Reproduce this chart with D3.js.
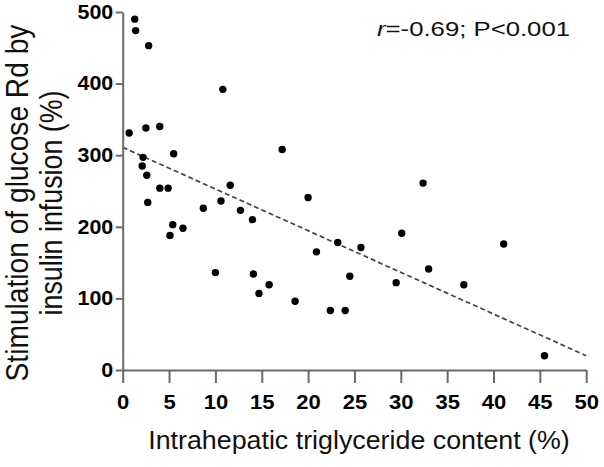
<!DOCTYPE html>
<html>
<head>
<meta charset="utf-8">
<script src="https://cdn.jsdelivr.net/npm/d3@7"></script>
<style>
  html, body { margin: 0; padding: 0; background: #fff; }
  svg { display: block; font-family: "Liberation Sans", Arial, sans-serif; }
</style>
</head>
<body>
<svg id="chart" width="604" height="467"></svg>
<script>
// ---- data ----
const ihtg = [1.3, 1.4, 2.8, 10.8, 0.7, 2.5, 4.0, 17.2, 2.2, 5.5, 2.1, 2.6, 4.0, 4.9, 11.6, 2.7, 8.7, 10.6, 12.7, 14.0, 5.4, 5.1, 6.5, 10.0, 14.1, 14.7, 15.8, 18.6, 20.0, 32.4, 30.1, 23.2, 25.7, 20.9, 24.5, 33.0, 29.5, 36.8, 22.4, 24.0, 41.1, 45.5];
const rdStim = [490, 474, 453, 392, 331, 338, 340, 308, 297, 302, 285, 272, 254, 254, 258, 234, 226, 236, 223, 210, 203, 188, 198, 136, 134, 107, 119, 96, 241, 261, 191, 178, 171, 165, 131, 141, 122, 119, 83, 83, 176, 20];
const fitX = [0, 50];
const fitY = [311, 20];
const xTicks = [0, 5, 10, 15, 20, 25, 30, 35, 40, 45, 50];
const yTicks = [0, 100, 200, 300, 400, 500];
const xTitle = "Intrahepatic triglyceride content (%)";
const yTitleLines = ["Stimulation of glucose Rd by", "insulin infusion (%)"];

// ---- layout ----
const svg = d3.select("#chart");
const x = d3.scaleLinear().domain([0, 50]).range([122.7, 586.2]);
const y = d3.scaleLinear().domain([0, 500]).range([370, 12]);
const axisColor = "#6a6a6a";
const SX = 1.1; // horizontal stretch of the reference text

// fit line
svg.append("path")
  .datum(fitX.map((d, i) => [d, fitY[i]]))
  .attr("d", d3.line().x(d => x(d[0])).y(d => y(d[1])))
  .attr("fill", "none")
  .attr("stroke", "#444")
  .attr("stroke-width", 1.7)
  .attr("stroke-dasharray", "5,3");

// x axis
const gx = svg.append("g")
  .attr("transform", `translate(0,${y(0)})`)
  .call(d3.axisBottom(x).tickValues(xTicks).tickSize(13).tickSizeOuter(0).tickPadding(12).tickFormat(d3.format("d")));
gx.select(".domain").attr("stroke", axisColor).attr("stroke-width", 2);
gx.selectAll(".tick line").attr("stroke", axisColor).attr("stroke-width", 2);
gx.selectAll(".tick text")
  .attr("fill", "#000")
  .attr("font-size", 20)
  .attr("font-weight", "bold")
  .attr("font-family", "Liberation Sans, Arial, sans-serif")
  .attr("transform", `scale(${SX},1)`);

// y axis
const gy = svg.append("g")
  .attr("transform", `translate(${x(0)},0)`)
  .call(d3.axisLeft(y).tickValues(yTicks).tickSize(7).tickSizeOuter(0).tickPadding(1.6).tickFormat(d3.format("d")));
gy.select(".domain").attr("stroke", axisColor).attr("stroke-width", 2);
gy.selectAll(".tick line").attr("stroke", axisColor).attr("stroke-width", 2);
gy.selectAll(".tick text")
  .attr("fill", "#000")
  .attr("font-size", 19.5)
  .attr("font-weight", "bold")
  .attr("font-family", "Liberation Sans, Arial, sans-serif")
  .attr("transform", `scale(${SX},1)`);

// points
svg.append("g").selectAll("circle")
  .data(ihtg.map((d, i) => [d, rdStim[i]]))
  .join("circle")
  .attr("cx", d => x(d[0]))
  .attr("cy", d => y(d[1]))
  .attr("r", 3.7)
  .attr("fill", "#000");

// x title
const xt = svg.append("text")
  .attr("text-anchor", "middle")
  .attr("font-size", 25)
  .attr("fill", "#111")
  .text(xTitle);
{
  const len = xt.node().getComputedTextLength();
  xt.attr("transform", `translate(359,449) scale(${422 / len},1)`);
}

// y title (two lines)
const yBase = [28, 62];
const yLen = [357, 225];
yTitleLines.forEach((line, i) => {
  const t = svg.append("text")
    .attr("text-anchor", "middle")
    .attr("font-size", 28)
    .attr("fill", "#111")
    .text(line);
  const len = t.node().getComputedTextLength();
  t.attr("transform", `translate(${yBase[i]},203) scale(${SX},1) rotate(-90) scale(${yLen[i] / len},1)`);
});

// annotation
const ann = svg.append("text")
  .attr("text-anchor", "middle")
  .attr("font-size", 21)
  .attr("fill", "#111");
ann.append("tspan").attr("font-style", "italic").text("r");
ann.append("tspan").text("=-0.69; P<0.001");
{
  const len = ann.node().getComputedTextLength();
  ann.attr("transform", `translate(473.5,36) scale(${193 / len},1)`);
}
</script>
</body>
</html>
